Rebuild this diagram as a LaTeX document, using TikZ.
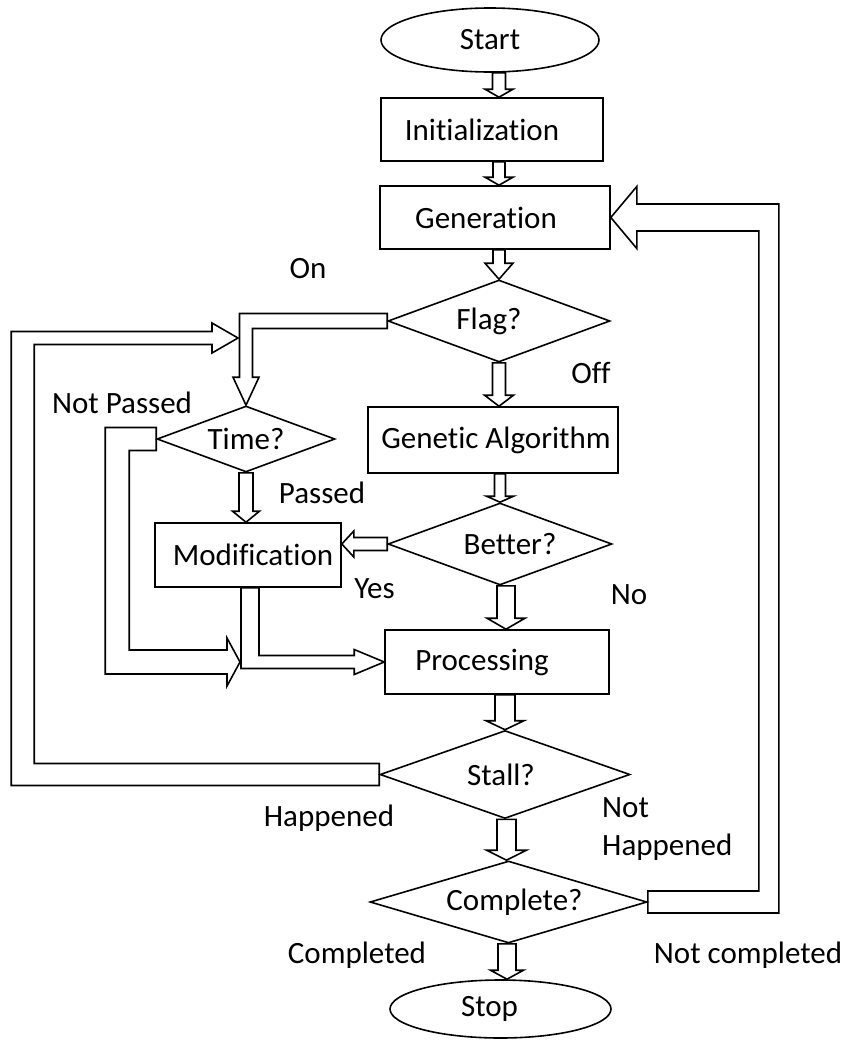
\documentclass[tikz,border=0pt]{standalone}
\usepackage{fontspec}
\setmainfont{Carlito}[Ligatures=NoCommon]
\usetikzlibrary{shapes.geometric,calc}
\tikzset{
  fc/.style={draw, line width=1.6pt, font=\fontsize{31}{37}\selectfont, inner sep=0pt},
  procbox/.style={fc, rectangle},
  term/.style={fc, ellipse},
  dec/.style={fc, diamond},
  lbl/.style={font=\fontsize{31}{37}\selectfont, inner sep=0pt},
  hol/.style={draw, line width=1.6pt, line join=miter},
}
% vertical hollow arrow: #1 source, #2 target, #3 axis dx, #4 shaft half, #5 head half, #6 head length
\newcommand\hdown[6]{%
  \draw[hol] let \p1=(#1), \p2=(#2), \p3=($(#1)+(#3,0)$) in
    (\x3-#4pt,\y1) -- (\x3-#4pt,\y2+#6pt) -- (\x3-#5pt,\y2+#6pt) -- (\x3,\y2)
    -- (\x3+#5pt,\y2+#6pt) -- (\x3+#4pt,\y2+#6pt) -- (\x3+#4pt,\y1) -- cycle;}
\begin{document}
\begin{tikzpicture}[x=1pt,y=-1pt]
\useasboundingbox (0,0) rectangle (849,1044);

% nodes
\node[term, minimum width=218pt, minimum height=64pt] (start) at (490,40) {Start};
\node[procbox, minimum width=222pt, minimum height=63pt] (init) at (492,129.5) {Initialization\kern20pt};
\node[procbox, minimum width=230pt, minimum height=63pt] (gen) at (495,217.5) {Generation\kern18pt};
\node[dec, aspect=2.7, minimum width=222pt, minimum height=82pt] (flag) at (499,321) {Flag?\kern20pt};
\node[dec, aspect=2.7, minimum width=178pt, minimum height=66pt] (time) at (246,439) {Time?};
\node[procbox, minimum width=250pt, minimum height=66pt] (ga) at (493,440) {\kern6pt Genetic Algorithm};
\node[dec, aspect=2.7, minimum width=224pt, minimum height=82pt] (better) at (500,544) {\kern20pt Better?};
\node[procbox, minimum width=186pt, minimum height=64pt] (mod) at (248,555) {\kern10pt Modification};
\node[procbox, minimum width=224pt, minimum height=64pt] (proc) at (497,662) {Processing\kern30pt};
\node[dec, aspect=2.8, minimum width=250pt, minimum height=88pt] (stall) at (505,774.5) {Stall?\kern8pt};
\node[dec, aspect=3.4, minimum width=277pt, minimum height=82pt] (complete) at (508.5,902) {\kern12pt Complete?};
\node[term, minimum width=221pt, minimum height=58pt] (stop) at (500.5,1009) {Stop\kern22pt};

% labels
\node[lbl, anchor=base] (lon) at (308,278) {On};
\node[lbl, anchor=base] (loff) at (591,383) {Off};
\node[lbl, anchor=base] (lnp) at (122,413) {Not Passed};
\node[lbl, anchor=base] (lpass) at (322,503) {Passed};
\node[lbl, anchor=base] (lyes) at (374.5,598) {Yes};
\node[lbl, anchor=base] (lno) at (629,604) {No};
\node[lbl, anchor=base] (lhap) at (329,826) {Happened};
\node[lbl, anchor=base west] (lnh1) at (602,817) {Not};
\node[lbl, anchor=base west] (lnh2) at (602,855) {Happened};
\node[lbl, anchor=base] (lcomp) at (357,963) {Completed};
\node[lbl, anchor=base] (lncomp) at (748,963) {Not completed};

% straight vertical hollow arrows
\hdown{start.south}{init.north}{9}{6.5}{14}{8}
\hdown{init.south}{gen.north}{7}{6}{14}{8}
\hdown{gen.south}{flag.north}{4}{6}{14}{16}
\hdown{flag.south}{ga.north}{0}{6.5}{14.5}{11}
\hdown{ga.south}{better.north}{7}{5.5}{13.5}{6}
\hdown{time.south}{mod.north}{0}{7}{13.5}{11}
\hdown{better.south}{proc.north}{6}{9}{19}{11}
\hdown{proc.south}{stall.north}{8}{10}{19}{9}
\hdown{stall.south}{complete.north}{1.5}{9.5}{20}{10}
\hdown{complete.south}{stop.north}{-1.5}{9}{16.5}{9}

% Flag? (On) -> Time?
\draw[hol] let \p1=(flag.west), \p2=(time.north) in
  (\x1,\y1+7.5pt) -| (\x2-6.5pt,\y2+28pt) -- (\x2-13pt,\y2+28pt) -- (\x2,\y2)
  -- (\x2+13pt,\y2+28pt) -- (\x2+6.5pt,\y2+28pt) |- (\x1,\y1-7.5pt) -- cycle;

% Better? (Yes) -> Modification
\draw[hol] let \p1=(better.west), \p2=(mod.east) in
  (\x1,\y1+6.5pt) -- (\x2+12pt,\y1+6.5pt) -- (\x2+12pt,\y1+13pt) -- (\x2,\y1)
  -- (\x2+12pt,\y1-13pt) -- (\x2+12pt,\y1-6.5pt) -- (\x1,\y1-6.5pt) -- cycle;

% Modification -> Processing
\draw[hol] let \p1=(mod.south), \p2=(proc.west) in
  (\x1-7pt,\y1) |- (\x2-30pt,\y2-6.5pt) -- (\x2-30pt,\y2-12.5pt) -- (\x2,\y2)
  -- (\x2-30pt,\y2+12.5pt) -- (\x2-30pt,\y2+6.5pt) -| (\x1+11pt,\y1) -- cycle;

% Time? (Not Passed) -> Processing path
\draw[hol] let \p1=(time.west), \p2=(mod.south), \p3=(proc.west) in
  (\x1,\y1-11.5pt) -- (\x1-27pt,\y1-11.5pt) -- (\x1-27pt,\y3+12pt) -- (\x2-21pt,\y3+12pt)
  -- (\x2-21pt,\y3+24pt) -- (\x2-8pt,\y3) -- (\x2-21pt,\y3-24pt) -- (\x2-21pt,\y3-12pt)
  -- (\x1-51pt,\y3-12pt) -- (\x1-51pt,\y1+11.5pt) -- (\x1,\y1+11.5pt) -- cycle;

% Stall? (Happened) -> back to Time? branch
\draw[hol] let \p1=(stall.west), \p2=(time.north), \p3=(flag.west) in
  (\x1,\y1+11pt) -- (\x1-345pt,\y1+11pt) -- (\x1-345pt,\y3-23.5pt) -- (\x2-34pt,\y3-23.5pt)
  -- (\x2-34pt,\y3-32pt) -- (\x2-8pt,\y3-17pt) -- (\x2-34pt,\y3-2pt) -- (\x2-34pt,\y3-10.5pt)
  -- (\x1-368pt,\y3-10.5pt) -- (\x1-368pt,\y1-11pt) -- (\x1,\y1-11pt) -- cycle;

% Complete? (Not completed) -> Generation
\draw[hol] let \p1=(complete.east), \p2=(gen.east) in
  (\x1,\y1-11pt) -- (\x1+131pt,\y1-11pt) -- (\x1+131pt,\y2+13.5pt) -- (\x2+26pt,\y2+13.5pt)
  -- (\x2+26pt,\y2+31pt) -- (\x2,\y2) -- (\x2+26pt,\y2-31pt) -- (\x2+26pt,\y2-13.5pt)
  -- (\x1+111pt,\y2-13.5pt) -- (\x1+111pt,\y1+11pt) -- (\x1,\y1+11pt) -- cycle;
\end{tikzpicture}
\end{document}
